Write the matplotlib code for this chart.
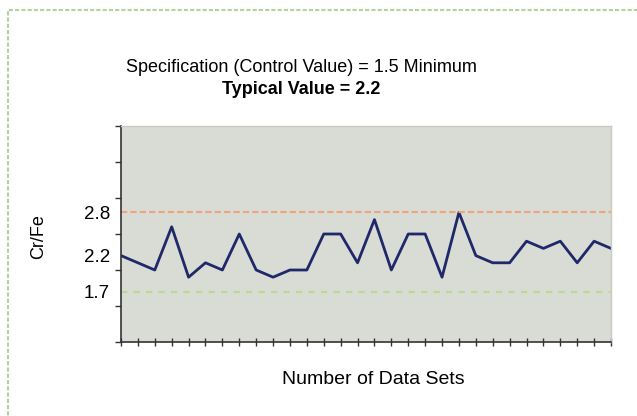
import numpy as np
import matplotlib
matplotlib.use("Agg")
import matplotlib.pyplot as plt
from matplotlib.patches import Rectangle

plt.rcParams['font.family'] = ['Liberation Sans', 'DejaVu Sans']

# data
cr_fe = [2.2, 2.1, 2.0, 2.6, 1.9, 2.1, 2.0, 2.5, 2.0, 1.9,
         2.0, 2.0, 2.5, 2.5, 2.1, 2.7, 2.0, 2.5, 2.5, 1.9,
         2.8, 2.2, 2.1, 2.1, 2.4, 2.3, 2.4, 2.1, 2.4, 2.3]
upper_limit = 2.8
lower_limit = 1.7
label_values = [1.7, 2.2, 2.8]
label_texts = ["1.7", "2.2", "2.8"]

x = np.arange(len(cr_fe))

fig = plt.figure(figsize=(6.37, 4.16), dpi=100)
fig.patch.set_facecolor("white")

# light green frame around the chart (left and top edges visible)
frame = Rectangle((8 / 637, -0.05), 1.2, 1 - 10 / 416 + 0.05, transform=fig.transFigure,
                  fill=False, edgecolor="#b4d39c", linewidth=1.5, linestyle=(0, (2, 1)))
fig.patches.append(frame)

ax = fig.add_axes([121 / 637, 1 - 342 / 416, 490 / 637, 216 / 416])
ax.set_facecolor("#d9dbd5")

ax.plot(x, cr_fe, color="#1f2868", linewidth=2)
ax.axhline(upper_limit, color="#eea57a", linewidth=1.5, linestyle=(0, (3, 1.5)))
ax.axhline(lower_limit, color="#bcd98c", linewidth=1.5, linestyle=(0, (3, 3)))

ax.set_xlim(0, len(cr_fe) - 1)
ax.set_ylim(1.0, 4.0)
ax.set_xticks(x)
ax.set_xticklabels([])
ax.tick_params(axis="x", direction="inout", length=6, width=1, color="#333333")

ax.set_yticks(label_values)
ax.set_yticklabels(label_texts, fontsize=13.5)
ax.set_yticks(np.arange(1.0, 4.01, 0.5), minor=True)
ax.tick_params(axis="y", which="major", length=0, pad=8)
ax.tick_params(axis="y", which="minor", length=4, width=1, color="#333333")

for side in ["left", "bottom"]:
    ax.spines[side].set_color("#333333")
    ax.spines[side].set_linewidth(1.2)
for side in ["top", "right"]:
    ax.spines[side].set_color("#c8cbc4")
    ax.spines[side].set_linewidth(1)

ax.set_ylabel("Cr/Fe", fontsize=13)
ax.yaxis.set_label_coords(-0.151, 0.49)
ax.set_xlabel("Number of Data Sets", fontsize=14)
ax.xaxis.set_label_coords(0.515, -0.134)

fig.text(0.473, 1 - 68 / 416, "Specification (Control Value) = 1.5 Minimum",
         ha="center", va="center", fontsize=13)
fig.text(0.473, 1 - 89 / 416, "Typical Value = 2.2",
         ha="center", va="center", fontsize=13, fontweight="bold")

fig.savefig("out.png", dpi=100)
